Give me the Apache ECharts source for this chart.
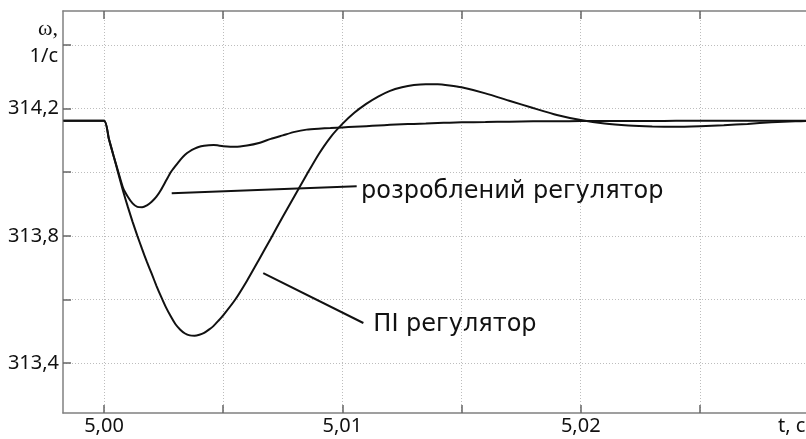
<!DOCTYPE html>
<html>
<head>
<meta charset="utf-8">
<script src="https://cdn.jsdelivr.net/npm/echarts@6/dist/echarts.min.js"></script>
<style>
  html, body { margin: 0; padding: 0; background: #fff; }
  #chart { width: 806px; height: 439px; }
</style>
</head>
<body>
<div id="chart"></div>
<script>
// час, с
var tValues = [4.9983, 5.0000, 5.0002, 5.0004, 5.0006, 5.0008, 5.0010, 5.0012, 5.0014, 5.0016,
  5.0018, 5.0020, 5.0022, 5.0024, 5.0026, 5.0028, 5.0030, 5.0032, 5.0034, 5.0036,
  5.0038, 5.0040, 5.0042, 5.0044, 5.0046, 5.0048, 5.0050, 5.0055, 5.0060, 5.0065,
  5.0070, 5.0075, 5.0080, 5.0085, 5.0090, 5.0095, 5.0100, 5.0105, 5.0110, 5.0115,
  5.0120, 5.0125, 5.0130, 5.0135, 5.0140, 5.0145, 5.0150, 5.016, 5.017, 5.018,
  5.019, 5.020, 5.021, 5.022, 5.023, 5.024, 5.025, 5.026, 5.027, 5.028,
  5.029, 5.0295];

// розроблений регулятор, ω 1/с
var wNew = [314.162, 314.162, 314.106, 314.052, 314.001, 313.951, 313.923, 313.902, 313.891, 313.890,
  313.896, 313.907, 313.923, 313.946, 313.973, 314.000, 314.020, 314.039, 314.055, 314.066,
  314.074, 314.080, 314.083, 314.085, 314.086, 314.084, 314.082, 314.080, 314.084, 314.092,
  314.105, 314.116, 314.127, 314.134, 314.137, 314.139, 314.141, 314.143, 314.145, 314.147,
  314.149, 314.151, 314.152, 314.153, 314.155, 314.156, 314.157, 314.158, 314.159, 314.160,
  314.160, 314.161, 314.161, 314.161, 314.161, 314.162, 314.162, 314.162, 314.162, 314.162,
  314.162, 314.162];

// ПІ регулятор, ω 1/с
var wPI = [314.162, 314.162, 314.106, 314.052, 313.996, 313.941, 313.891, 313.844, 313.800, 313.758,
  313.718, 313.681, 313.643, 313.608, 313.575, 313.547, 313.522, 313.505, 313.493, 313.487,
  313.486, 313.489, 313.495, 313.505, 313.517, 313.533, 313.550, 313.599, 313.659, 313.725,
  313.792, 313.860, 313.926, 313.992, 314.056, 314.110, 314.152, 314.187, 314.215, 314.238,
  314.256, 314.267, 314.274, 314.277, 314.277, 314.273, 314.267, 314.248, 314.225, 314.202,
  314.180, 314.164, 314.153, 314.147, 314.144, 314.143, 314.145, 314.148, 314.152, 314.157,
  314.160, 314.161];

var xTicks = [5.000, 5.005, 5.010, 5.015, 5.020, 5.025];
var xLabels = [5.00, 5.01, 5.02];
var yTicks = [313.4, 313.6, 313.8, 314.0, 314.2, 314.4];
var yLabels = [313.4, 313.8, 314.2];

// підписи кривих: [t, ω] початку й кінця виноски, точка тексту
var noteNew = { text: 'розроблений регулятор', from: [5.00284, 313.934], to: [5.01060, 313.956], at: [5.01078, 313.938] };
var notePI = { text: 'ПІ регулятор', from: [5.00668, 313.683], to: [5.01088, 313.526], at: [5.01130, 313.519] };

function zip(xs, ys) {
  return xs.map(function (x, i) { return [x, ys[i]]; });
}

var font = 'Noto Sans';
var noteFont = 'DejaVu Sans';
var axisColor = '#808080';
var gridStyle = { color: '#bdbdbd', type: [1, 2], width: 1 };

var myChart = echarts.init(document.getElementById('chart'));

var xCommon = {
  type: 'value',
  min: 4.99828,
  max: 5.02945,
  axisLine: { show: true, lineStyle: { color: axisColor, width: 1.5 } },
  axisTick: { show: true, inside: true, length: 8, customValues: xTicks, lineStyle: { color: '#666', width: 1.5 } }
};

var option = {
  animation: false,
  backgroundColor: '#fff',
  grid: { left: 63, right: 0, top: 11, bottom: 26, containLabel: false, outerBoundsMode: 'none' },
  xAxis: [
    Object.assign({}, xCommon, {
      position: 'bottom',
      name: 't, c',
      nameLocation: 'end',
      nameGap: -28,
      nameTextStyle: { fontFamily: font, fontSize: 20, color: '#111', align: 'left', verticalAlign: 'top', padding: [3, 0, 0, 0] },
      axisLabel: {
        show: true, customValues: xLabels, margin: 3,
        fontFamily: font, fontSize: 20, color: '#111',
        formatter: function (v) { return v.toFixed(2).replace('.', ','); }
      },
      splitLine: { show: true, customValues: xTicks, lineStyle: gridStyle }
    }),
    Object.assign({}, xCommon, {
      position: 'top',
      axisLabel: { show: false },
      splitLine: { show: false }
    })
  ],
  yAxis: {
    type: 'value',
    min: 313.243,
    max: 314.507,
    name: '{w|ω,}\n{u|1/c}',
    nameLocation: 'end',
    nameGap: -5,
    nameTextStyle: {
      align: 'right', verticalAlign: 'top', padding: [0, 5, 0, 0],
      rich: {
        w: { fontFamily: 'Liberation Serif', fontSize: 22, color: '#111', lineHeight: 27, align: 'right' },
        u: { fontFamily: font, fontSize: 20, color: '#111', lineHeight: 27, align: 'right' }
      }
    },
    axisLine: { show: true, lineStyle: { color: axisColor, width: 1.5 } },
    axisTick: { show: true, inside: true, length: 8, customValues: yTicks, lineStyle: { color: '#666', width: 1.5 } },
    axisLabel: {
      show: true, customValues: yLabels, margin: 4,
      fontFamily: font, fontSize: 20, color: '#111',
      formatter: function (v) { return v.toFixed(1).replace('.', ','); }
    },
    splitLine: { show: true, customValues: yTicks, lineStyle: gridStyle }
  },
  series: [
    {
      name: 'розроблений регулятор',
      type: 'line',
      data: zip(tValues, wNew),
      showSymbol: false,
      smooth: 0.2,
      lineStyle: { color: '#111', width: 2 },
      markLine: {
        silent: true, symbol: 'none', animation: false,
        lineStyle: { color: '#111', width: 2, type: 'solid' },
        label: { show: false },
        data: [[{ coord: noteNew.from }, { coord: noteNew.to }]]
      },
      markPoint: {
        silent: true, symbol: 'circle', symbolSize: 0,
        label: { show: true, position: 'right', distance: 0, fontFamily: noteFont, fontSize: 24, color: '#111' },
        data: [{ coord: noteNew.at, value: noteNew.text, label: { formatter: noteNew.text } }]
      }
    },
    {
      name: 'ПІ регулятор',
      type: 'line',
      data: zip(tValues, wPI),
      showSymbol: false,
      smooth: 0.2,
      lineStyle: { color: '#111', width: 2 },
      markLine: {
        silent: true, symbol: 'none', animation: false,
        lineStyle: { color: '#111', width: 2, type: 'solid' },
        label: { show: false },
        data: [[{ coord: notePI.from }, { coord: notePI.to }]]
      },
      markPoint: {
        silent: true, symbol: 'circle', symbolSize: 0,
        label: { show: true, position: 'right', distance: 0, fontFamily: noteFont, fontSize: 24, color: '#111' },
        data: [{ coord: notePI.at, value: notePI.text, label: { formatter: notePI.text } }]
      }
    }
  ]
};

myChart.setOption(option);
</script>
</body>
</html>
